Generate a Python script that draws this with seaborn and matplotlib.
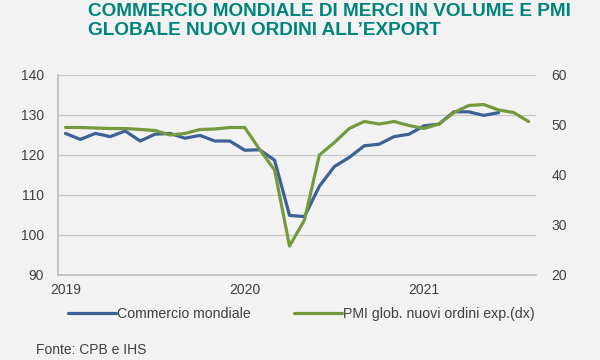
import numpy as np
import pandas as pd
import matplotlib.pyplot as plt
import seaborn as sns

# mesi da gen 2019 ad ago 2021 (indice 0..31)
mesi = np.arange(32)
anni_tick = [0, 12, 24]
anni_label = ['2019', '2020', '2021']

# Commercio mondiale (sx), fino a giu 2021
commercio = [125.4, 123.9, 125.4, 124.6, 126.0, 123.5, 125.2, 125.4, 124.2, 124.9,
             123.5, 123.5, 121.2, 121.3, 118.7, 104.9, 104.6, 112.2, 117.1, 119.4,
             122.3, 122.7, 124.6, 125.2, 127.3, 127.7, 130.8, 130.8, 129.9, 130.6]

# PMI globale nuovi ordini all'export (dx)
pmi = [49.5, 49.5, 49.4, 49.3, 49.3, 49.1, 48.9, 48.0, 48.3, 49.1,
       49.2, 49.5, 49.5, 45.1, 41.0, 25.8, 31.0, 44.0, 46.5, 49.3,
       50.7, 50.2, 50.7, 49.9, 49.3, 50.2, 52.5, 53.9, 54.1, 53.0,
       52.5, 50.7]

blu = '#3b6196'
verde = '#77993e'
titolo_col = '#00857c'
bg = '#f2f2f2'
testo = '#404040'

sns.set_theme(style='white')
plt.rcParams['font.family'] = ['Liberation Sans', 'DejaVu Sans']

df_c = pd.DataFrame({'mese': mesi[:len(commercio)], 'valore': commercio})
df_p = pd.DataFrame({'mese': mesi[:len(pmi)], 'valore': pmi})

fig = plt.figure(figsize=(6, 3.6), dpi=100, facecolor=bg)
ax = fig.add_axes([58 / 600, 1 - 275 / 360, (536 - 58) / 600, 200 / 360])
ax.set_facecolor(bg)
ax2 = ax.twinx()

sns.lineplot(data=df_c, x='mese', y='valore', ax=ax, color=blu, lw=2.3,
             label='Commercio mondiale', legend=False)
sns.lineplot(data=df_p, x='mese', y='valore', ax=ax2, color=verde, lw=2.3,
             label='PMI glob. nuovi ordini exp.(dx)', legend=False)

ax.set_xlim(-0.5, 31.5)
ax.set_ylim(90, 140)
ax2.set_ylim(20, 60)
ax.set_yticks(np.arange(90, 141, 10))
ax2.set_yticks(np.arange(20, 61, 10))
ax.set_xticks(anni_tick)
ax.set_xticklabels(anni_label)

ax.grid(axis='y', color='#c8c8c8', lw=0.9)
ax.grid(axis='x', visible=False)
ax2.grid(False)
for a in (ax, ax2):
    a.set_xlabel('')
    a.set_ylabel('')
    for s in a.spines.values():
        s.set_visible(False)
ax.spines['left'].set_visible(True)
ax.spines['bottom'].set_visible(True)
ax.spines['left'].set_color('#bfbfbf')
ax.spines['bottom'].set_color('#bfbfbf')

ax.tick_params(axis='y', length=0, pad=10, labelsize=10, labelcolor=testo)
ax.tick_params(axis='x', length=0, pad=6, labelsize=10, labelcolor=testo)
ax2.tick_params(axis='y', length=0, pad=11, labelsize=10, labelcolor=testo)

fig.text(88 / 600, 1 - 3 / 360,
         'COMMERCIO MONDIALE DI MERCI IN VOLUME E PMI\nGLOBALE NUOVI ORDINI ALL\u2019EXPORT',
         ha='left', va='top', fontsize=13.7, fontweight='bold', color=titolo_col,
         linespacing=1.12)

h1, l1 = ax.get_legend_handles_labels()
h2, l2 = ax2.get_legend_handles_labels()
fig.legend(h1 + h2, l1 + l2, loc='center left', bbox_to_anchor=(55 / 600, 1 - 314 / 360),
           ncol=2, frameon=False, fontsize=10.2, handlelength=3.4, handletextpad=0.1,
           columnspacing=3.0, labelcolor=testo)

fig.text(36 / 600, 1 - 350 / 360, 'Fonte: CPB e IHS', ha='left', va='center',
         fontsize=10, color=testo)

fig.savefig('out.png', dpi=100, facecolor=bg)
